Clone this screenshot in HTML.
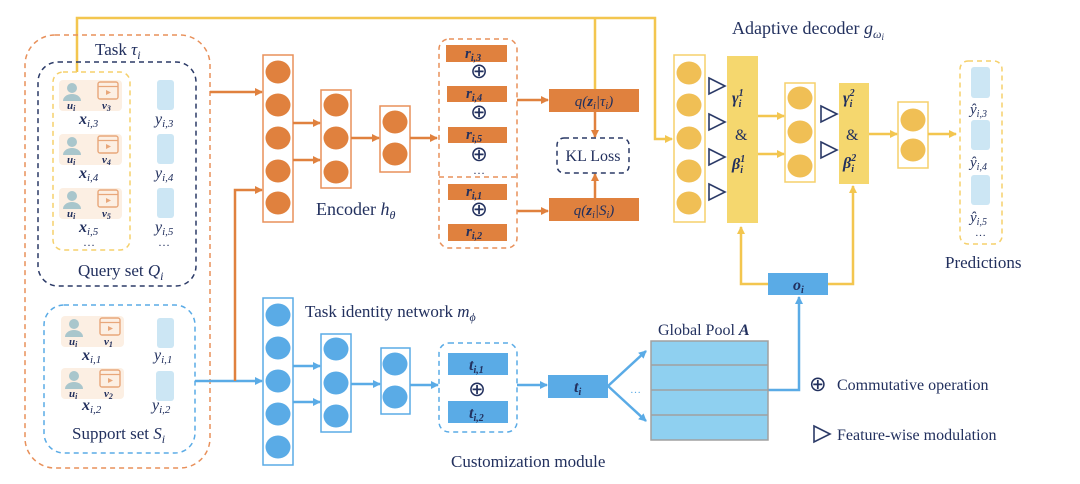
<!DOCTYPE html>
<html><head><meta charset="utf-8"><style>
html,body{margin:0;padding:0;background:#fff;}
svg{display:block;}
text{font-family:"Liberation Serif",serif;fill:#22305e;}
.m{font-style:italic;}
.b{font-weight:bold;font-style:italic;}
</style></head><body>
<svg width="1080" height="484" viewBox="0 0 1080 484" xmlns="http://www.w3.org/2000/svg">
<defs>
<marker id="ao" markerWidth="8" markerHeight="8" refX="7" refY="4" orient="auto" markerUnits="userSpaceOnUse"><path d="M0,0 L8,4 L0,8 z" fill="#e0813e"/></marker>
<marker id="ab" markerWidth="8" markerHeight="8" refX="7" refY="4" orient="auto" markerUnits="userSpaceOnUse"><path d="M0,0 L8,4 L0,8 z" fill="#5aabe6"/></marker>
<marker id="ay" markerWidth="8" markerHeight="8" refX="7" refY="4" orient="auto" markerUnits="userSpaceOnUse"><path d="M0,0 L8,4 L0,8 z" fill="#f3c64f"/></marker>
<g id="row">
<rect x="59" y="0" width="63" height="31" rx="4" fill="#fcefe3"/>
<circle cx="72" cy="8" r="5" fill="#a9c6cc"/>
<path d="M63,21 a9,7 0 0 1 18,0 z" fill="#a9c6cc"/>
<rect x="98" y="2" width="20" height="17" rx="2" fill="none" stroke="#e8a77a" stroke-width="1.4"/>
<line x1="98" y1="6.5" x2="118" y2="6.5" stroke="#e8a77a" stroke-width="1.3"/>
<path d="M106,10 L111,12.5 L106,15 z" fill="#e8a77a"/>
</g>
</defs>

<polyline points="77,72 77,18 655,18 655,139 672,139" fill="none" stroke="#f3c64f" stroke-width="2.5" marker-end="url(#ay)"/>
<line x1="595" y1="89" x2="595" y2="18" stroke="#f3c64f" stroke-width="2.5"/>

<rect x="25" y="35" width="185" height="433" rx="30" fill="none" stroke="#e8905a" stroke-width="1.5" stroke-dasharray="5,4"/>
<text x="95" y="55" font-size="17">Task <tspan class="m">τ<tspan font-size="12" dy="4">i</tspan></tspan></text>
<rect x="38" y="62" width="158" height="224" rx="20" fill="none" stroke="#2b3a67" stroke-width="1.5" stroke-dasharray="5,4"/>
<rect x="53" y="72" width="77" height="178" rx="10" fill="none" stroke="#f5d06b" stroke-width="1.5" stroke-dasharray="5,4"/>

<use href="#row" y="80"/><use href="#row" y="134"/><use href="#row" y="188"/>
<g font-size="11" class="b">
<text x="67" y="109" class="b">u<tspan font-size="8" dy="2">i</tspan></text><text x="102" y="109" class="b">v<tspan font-size="8" dy="2">3</tspan></text>
<text x="67" y="163" class="b">u<tspan font-size="8" dy="2">i</tspan></text><text x="102" y="163" class="b">v<tspan font-size="8" dy="2">4</tspan></text>
<text x="67" y="217" class="b">u<tspan font-size="8" dy="2">i</tspan></text><text x="102" y="217" class="b">v<tspan font-size="8" dy="2">5</tspan></text>
</g>
<text x="79" y="124" font-size="16" class="b">x<tspan font-size="11" dy="3" font-weight="normal">i,3</tspan></text>
<text x="79" y="178" font-size="16" class="b">x<tspan font-size="11" dy="3" font-weight="normal">i,4</tspan></text>
<text x="79" y="232" font-size="16" class="b">x<tspan font-size="11" dy="3" font-weight="normal">i,5</tspan></text>
<text x="83" y="246" font-size="12">…</text>
<rect x="157" y="80" width="17" height="30" rx="3" fill="#cce6f4"/>
<rect x="157" y="134" width="17" height="30" rx="3" fill="#cce6f4"/>
<rect x="157" y="188" width="17" height="30" rx="3" fill="#cce6f4"/>
<text x="155" y="124" font-size="16" class="m">y<tspan font-size="11" dy="3">i,3</tspan></text>
<text x="155" y="178" font-size="16" class="m">y<tspan font-size="11" dy="3">i,4</tspan></text>
<text x="155" y="232" font-size="16" class="m">y<tspan font-size="11" dy="3">i,5</tspan></text>
<text x="158" y="246" font-size="12">…</text>
<text x="78" y="276" font-size="17">Query set <tspan class="m">Q<tspan font-size="12" dy="4">i</tspan></tspan></text>

<rect x="44" y="305" width="151" height="148" rx="20" fill="none" stroke="#5aabe6" stroke-width="1.5" stroke-dasharray="5,4"/>
<use href="#row" x="2" y="316"/><use href="#row" x="2" y="368"/>
<text x="69" y="345" font-size="11" class="b">u<tspan font-size="8" dy="2">i</tspan></text><text x="104" y="345" font-size="11" class="b">v<tspan font-size="8" dy="2">1</tspan></text>
<text x="69" y="397" font-size="11" class="b">u<tspan font-size="8" dy="2">i</tspan></text><text x="104" y="397" font-size="11" class="b">v<tspan font-size="8" dy="2">2</tspan></text>
<text x="82" y="360" font-size="16" class="b">x<tspan font-size="11" dy="3" font-weight="normal">i,1</tspan></text>
<text x="82" y="410" font-size="16" class="b">x<tspan font-size="11" dy="3" font-weight="normal">i,2</tspan></text>
<rect x="157" y="318" width="17" height="30" rx="3" fill="#cce6f4"/>
<rect x="156" y="371" width="18" height="30" rx="3" fill="#cce6f4"/>
<text x="154" y="360" font-size="16" class="m">y<tspan font-size="11" dy="3">i,1</tspan></text>
<text x="152" y="410" font-size="16" class="m">y<tspan font-size="11" dy="3">i,2</tspan></text>
<text x="72" y="439" font-size="17">Support set <tspan class="m">S<tspan font-size="12" dy="4">i</tspan></tspan></text>

<line x1="210" y1="92" x2="262" y2="92" stroke="#e0813e" stroke-width="2.5" marker-end="url(#ao)"/>
<line x1="195" y1="381" x2="262" y2="381" stroke="#5aabe6" stroke-width="2.5" marker-end="url(#ab)"/>
<polyline points="235,381 235,190 262,190" fill="none" stroke="#e0813e" stroke-width="2.5" marker-end="url(#ao)"/>

<g fill="none" stroke="#e8905a" stroke-width="1.5">
<rect x="263" y="55" width="30" height="167"/><rect x="321" y="90" width="30" height="98"/><rect x="380" y="106" width="30" height="66"/>
</g>
<g fill="#e0813e">
<ellipse cx="278" cy="72" rx="12.5" ry="11.5"/><ellipse cx="278" cy="105" rx="12.5" ry="11.5"/><ellipse cx="278" cy="138" rx="12.5" ry="11.5"/><ellipse cx="278" cy="171" rx="12.5" ry="11.5"/><ellipse cx="278" cy="203" rx="12.5" ry="11.5"/>
<ellipse cx="336" cy="105" rx="12.5" ry="11.5"/><ellipse cx="336" cy="138" rx="12.5" ry="11.5"/><ellipse cx="336" cy="172" rx="12.5" ry="11.5"/>
<ellipse cx="395" cy="122" rx="12.5" ry="11.5"/><ellipse cx="395" cy="154" rx="12.5" ry="11.5"/>
</g>
<g stroke="#e0813e" stroke-width="2.5">
<line x1="293" y1="123" x2="320" y2="123" marker-end="url(#ao)"/><line x1="293" y1="160" x2="320" y2="160" marker-end="url(#ao)"/>
<line x1="351" y1="138" x2="379" y2="138" marker-end="url(#ao)"/><line x1="410" y1="138" x2="437" y2="138" marker-end="url(#ao)"/>
<line x1="517" y1="100" x2="548" y2="100" marker-end="url(#ao)"/><line x1="517" y1="211" x2="548" y2="211" marker-end="url(#ao)"/>
<line x1="595" y1="112" x2="595" y2="137" marker-end="url(#ao)"/><line x1="595" y1="198" x2="595" y2="174" marker-end="url(#ao)"/>
</g>
<text x="316" y="215" font-size="18">Encoder <tspan class="m">h<tspan font-size="12" dy="4">θ</tspan></tspan></text>

<rect x="439" y="39" width="78" height="209" rx="10" fill="none" stroke="#e8905a" stroke-width="1.5" stroke-dasharray="5,4"/>
<line x1="439" y1="177" x2="517" y2="177" stroke="#e8905a" stroke-width="1.5" stroke-dasharray="5,4"/>
<g fill="#e0813e">
<rect x="446" y="45" width="61" height="17"/><rect x="447" y="86" width="60" height="16"/><rect x="448" y="127" width="59" height="16"/>
<rect x="448" y="184" width="59" height="16"/><rect x="448" y="224" width="59" height="17"/>
<rect x="549" y="89" width="90" height="23"/><rect x="549" y="198" width="90" height="23"/>
</g>
<g font-size="15" class="b">
<text x="465" y="58">r<tspan font-size="10" dy="3">i,3</tspan></text><text x="466" y="98">r<tspan font-size="10" dy="3">i,4</tspan></text>
<text x="466" y="139">r<tspan font-size="10" dy="3">i,5</tspan></text><text x="466" y="196">r<tspan font-size="10" dy="3">i,1</tspan></text>
<text x="466" y="236">r<tspan font-size="10" dy="3">i,2</tspan></text>
</g>
<g font-size="21" text-anchor="middle"><text x="479" y="78">⊕</text><text x="479" y="119">⊕</text><text x="479" y="161">⊕</text><text x="479" y="216">⊕</text><text x="479" y="174" font-size="12">…</text></g>
<text x="594" y="106" font-size="15" text-anchor="middle" class="m">q(<tspan font-weight="bold">z</tspan><tspan font-size="10" dy="3">i</tspan><tspan dy="-3">|τ</tspan><tspan font-size="10" dy="3">i</tspan><tspan dy="-3">)</tspan></text>
<text x="594" y="215" font-size="15" text-anchor="middle" class="m">q(<tspan font-weight="bold">z</tspan><tspan font-size="10" dy="3">i</tspan><tspan dy="-3">|S</tspan><tspan font-size="10" dy="3">i</tspan><tspan dy="-3">)</tspan></text>
<rect x="557" y="138" width="72" height="35" rx="7" fill="none" stroke="#2b3a67" stroke-width="1.5" stroke-dasharray="5,4"/>
<text x="593" y="161" font-size="16" text-anchor="middle">KL Loss</text>

<g fill="none" stroke="#5aabe6" stroke-width="1.5">
<rect x="263" y="298" width="30" height="167"/><rect x="321" y="334" width="30" height="98"/><rect x="381" y="348" width="29" height="66"/>
</g>
<g fill="#5aabe6">
<ellipse cx="278" cy="315" rx="12.5" ry="11.5"/><ellipse cx="278" cy="348" rx="12.5" ry="11.5"/><ellipse cx="278" cy="381" rx="12.5" ry="11.5"/><ellipse cx="278" cy="414" rx="12.5" ry="11.5"/><ellipse cx="278" cy="447" rx="12.5" ry="11.5"/>
<ellipse cx="336" cy="349" rx="12.5" ry="11.5"/><ellipse cx="336" cy="383" rx="12.5" ry="11.5"/><ellipse cx="336" cy="416" rx="12.5" ry="11.5"/>
<ellipse cx="395" cy="364" rx="12.5" ry="11.5"/><ellipse cx="395" cy="397" rx="12.5" ry="11.5"/>
</g>
<g stroke="#5aabe6" stroke-width="2.5">
<line x1="293" y1="366" x2="320" y2="366" marker-end="url(#ab)"/><line x1="293" y1="402" x2="320" y2="402" marker-end="url(#ab)"/>
<line x1="351" y1="384" x2="380" y2="384" marker-end="url(#ab)"/><line x1="410" y1="385" x2="438" y2="385" marker-end="url(#ab)"/>
<line x1="517" y1="385" x2="547" y2="385" marker-end="url(#ab)"/>
<line x1="608" y1="386" x2="646" y2="351" marker-end="url(#ab)"/><line x1="608" y1="386" x2="646" y2="421" marker-end="url(#ab)"/>
</g>
<polyline points="768,390 799,390 799,297" fill="none" stroke="#5aabe6" stroke-width="2.5" marker-end="url(#ab)"/>
<text x="305" y="317" font-size="17">Task identity  network <tspan class="m">m<tspan font-size="12" dy="4">ϕ</tspan></tspan></text>
<rect x="439" y="343" width="78" height="89" rx="10" fill="none" stroke="#5aabe6" stroke-width="1.5" stroke-dasharray="5,4"/>
<rect x="448" y="353" width="60" height="22" fill="#5aabe6"/><rect x="448" y="401" width="60" height="22" fill="#5aabe6"/>
<rect x="548" y="375" width="60" height="23" fill="#5aabe6"/>
<text x="469" y="370" font-size="16" class="b">t<tspan font-size="10" dy="3">i,1</tspan></text>
<text x="469" y="418" font-size="16" class="b">t<tspan font-size="10" dy="3">i,2</tspan></text>
<text x="477" y="396" font-size="21" text-anchor="middle">⊕</text>
<text x="574" y="392" font-size="16" class="b">t<tspan font-size="10" dy="3">i</tspan></text>
<text x="630" y="393" font-size="11" style="fill:#5aabe6">…</text>
<text x="451" y="467" font-size="17">Customization  module</text>

<text x="658" y="335" font-size="16">Global Pool <tspan class="b">A</tspan></text>
<rect x="651" y="341" width="117" height="99" fill="#8fd0f0" stroke="#a0a0a0" stroke-width="1.5"/>
<g stroke="#a0a0a0" stroke-width="1.5"><line x1="651" y1="365" x2="768" y2="365"/><line x1="651" y1="390" x2="768" y2="390"/><line x1="651" y1="415" x2="768" y2="415"/></g>

<polyline points="768,284 741,284 741,227" fill="none" stroke="#f3c64f" stroke-width="2.5" marker-end="url(#ay)"/>
<polyline points="828,284 853,284 853,186" fill="none" stroke="#f3c64f" stroke-width="2.5" marker-end="url(#ay)"/>
<rect x="768" y="273" width="60" height="22" fill="#5aabe6"/>
<text x="793" y="290" font-size="16" class="b">o<tspan font-size="10" dy="3">i</tspan></text>

<text x="732" y="34" font-size="18">Adaptive decoder <tspan class="m">g<tspan font-size="12" dy="4">ω<tspan font-size="9" dy="2">i</tspan></tspan></tspan></text>
<g fill="none" stroke="#f5d06b" stroke-width="1.5">
<rect x="674" y="55" width="31" height="167"/><rect x="785" y="83" width="30" height="99"/><rect x="898" y="102" width="30" height="66"/>
</g>
<g fill="#f0bf55">
<ellipse cx="689" cy="73" rx="12.5" ry="11.5"/><ellipse cx="689" cy="105" rx="12.5" ry="11.5"/><ellipse cx="689" cy="138" rx="12.5" ry="11.5"/><ellipse cx="689" cy="171" rx="12.5" ry="11.5"/><ellipse cx="689" cy="203" rx="12.5" ry="11.5"/>
<ellipse cx="800" cy="98" rx="12.5" ry="11.5"/><ellipse cx="800" cy="132" rx="12.5" ry="11.5"/><ellipse cx="800" cy="166" rx="12.5" ry="11.5"/>
<ellipse cx="913" cy="120" rx="12.5" ry="11.5"/><ellipse cx="913" cy="150" rx="12.5" ry="11.5"/>
</g>
<g fill="none" stroke="#2b3a67" stroke-width="1.6">
<path d="M709,78 L725,86 L709,94 z"/><path d="M709,114 L725,122 L709,130 z"/><path d="M709,149 L725,157 L709,165 z"/><path d="M709,184 L725,192 L709,200 z"/>
<path d="M821,106 L837,114 L821,122 z"/><path d="M821,142 L837,150 L821,158 z"/>
<path d="M814,426 L830,434 L814,442 z"/>
</g>
<rect x="727" y="56" width="31" height="167" fill="#f5d76e"/>
<rect x="839" y="83" width="30" height="101" fill="#f5d76e"/>
<g font-size="16" class="b">
<text x="732" y="103">γ<tspan font-size="10" dy="-7">1</tspan><tspan font-size="10" dx="-5" dy="11">i</tspan></text>
<text x="732" y="169">β<tspan font-size="10" dy="-7">1</tspan><tspan font-size="10" dx="-5" dy="11">i</tspan></text>
<text x="843" y="103">γ<tspan font-size="10" dy="-7">2</tspan><tspan font-size="10" dx="-5" dy="11">i</tspan></text>
<text x="843" y="168">β<tspan font-size="10" dy="-7">2</tspan><tspan font-size="10" dx="-5" dy="11">i</tspan></text>
</g>
<text x="735" y="140" font-size="16">&amp;</text><text x="846" y="140" font-size="16">&amp;</text>
<g stroke="#f3c64f" stroke-width="2.5">
<line x1="758" y1="116" x2="784" y2="116" marker-end="url(#ay)"/><line x1="758" y1="154" x2="784" y2="154" marker-end="url(#ay)"/>
<line x1="869" y1="134" x2="897" y2="134" marker-end="url(#ay)"/><line x1="928" y1="134" x2="956" y2="134" marker-end="url(#ay)"/>
</g>
<rect x="960" y="61" width="42" height="183" rx="8" fill="none" stroke="#f5d06b" stroke-width="1.5" stroke-dasharray="5,4"/>
<rect x="971" y="67" width="19" height="31" rx="3" fill="#cce6f4"/><rect x="971" y="120" width="19" height="30" rx="3" fill="#cce6f4"/><rect x="971" y="175" width="19" height="30" rx="3" fill="#cce6f4"/>
<g font-size="15" class="m">
<text x="970" y="114">ŷ<tspan font-size="10" dy="3">i,3</tspan></text><text x="970" y="167">ŷ<tspan font-size="10" dy="3">i,4</tspan></text><text x="970" y="222">ŷ<tspan font-size="10" dy="3">i,5</tspan></text>
</g>
<text x="975" y="236" font-size="11">…</text>
<text x="945" y="268" font-size="17">Predictions</text>

<text x="809" y="391" font-size="21">⊕</text>
<text x="837" y="390" font-size="16">Commutative operation</text>
<text x="837" y="440" font-size="16">Feature-wise modulation</text>
</svg>
</body></html>
